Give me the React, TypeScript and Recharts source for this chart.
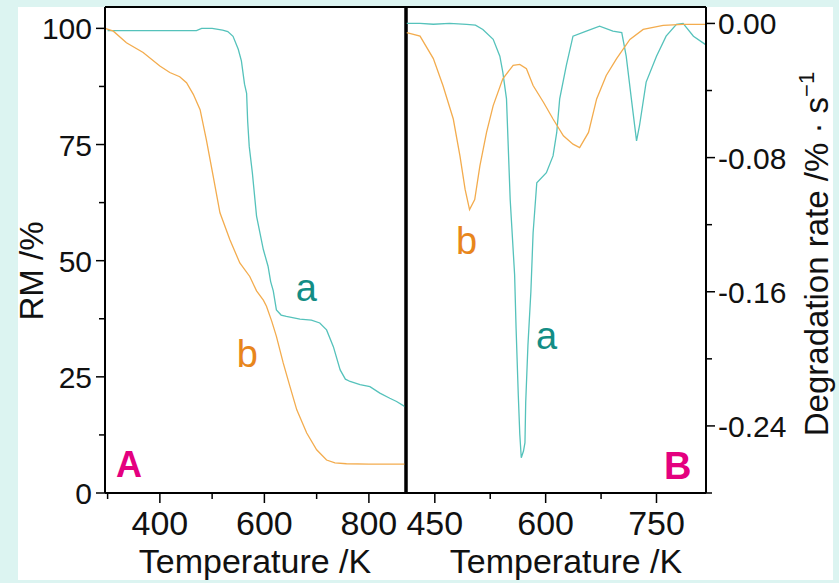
import React from 'react';
import { LineChart, Line, XAxis, YAxis, ReferenceLine, ReferenceDot } from 'recharts';

// panel A: residual mass (RM %) vs temperature
const tempA_a = [300, 400, 470, 480, 500, 520, 530, 540, 550, 556, 562, 566, 568, 571, 577, 585, 598, 607, 612, 617, 623, 632, 642, 668, 690, 706, 719, 732, 745, 755, 764, 783, 802, 821, 840, 853, 869];
const rmA_a = [99.5, 99.5, 99.5, 100, 100, 99.6, 99.3, 98.3, 95.5, 93, 88, 86, 80, 74.6, 68.9, 59.6, 52.4, 48.8, 45.5, 43.5, 39.4, 38.3, 38, 37.4, 37.2, 36.6, 35.1, 31.5, 26.5, 24.5, 24, 23.3, 22.9, 21.5, 20.4, 19.7, 18.6];
const tempA_b = [295, 311, 336, 368, 400, 419, 438, 451, 464, 477, 489, 502, 515, 534, 553, 572, 585, 598, 604, 614, 623, 636, 649, 662, 681, 700, 719, 735, 757, 800, 869];
const rmA_b = [100, 99.4, 96.9, 94.8, 91.9, 90.5, 89.6, 88.3, 85.8, 82.5, 76, 68.2, 60.3, 54.5, 49.5, 46.6, 43.5, 41.5, 40.2, 37, 33.7, 28, 22.9, 17.9, 12.9, 9.3, 7.1, 6.5, 6.3, 6.2, 6.2];

// panel B: degradation rate vs temperature
const tempB_a = [412, 430, 448, 470, 493, 505, 515, 529, 538, 542, 547, 552, 558, 560, 563, 565, 567, 570, 572, 573, 576, 580, 583, 588, 601, 610, 615, 619, 628, 637, 655, 673, 691, 703, 709, 716, 723, 727, 736, 750, 763, 777, 786, 800, 816];
const rateB_a = [0, 0, -0.0005, 0, -0.0006, -0.001, -0.0036, -0.0095, -0.0195, -0.029, -0.045, -0.105, -0.15, -0.182, -0.222, -0.245, -0.259, -0.255, -0.25, -0.226, -0.192, -0.16, -0.125, -0.095, -0.089, -0.079, -0.065, -0.045, -0.025, -0.0076, -0.0046, -0.0016, -0.0046, -0.0055, -0.0195, -0.045, -0.07, -0.061, -0.035, -0.0195, -0.0076, -0.0006, 0, -0.0076, -0.0125];
const tempB_b = [412, 430, 448, 461, 475, 484, 491, 497, 504, 511, 520, 529, 542, 556, 565, 574, 583, 597, 610, 624, 637, 646, 658, 669, 682, 696, 714, 732, 759, 786, 816];
const rateB_b = [-0.0055, -0.0076, -0.021, -0.037, -0.057, -0.079, -0.099, -0.111, -0.105, -0.085, -0.065, -0.049, -0.033, -0.025, -0.0244, -0.027, -0.037, -0.047, -0.057, -0.067, -0.072, -0.074, -0.065, -0.045, -0.031, -0.021, -0.0095, -0.0036, -0.0012, -0.0006, -0.0006];

const ticksA_x = [300, 400, 500, 600, 700, 800];
const labelsA_x = [400, 600, 800];
const ticksA_y = [0, 12.5, 25, 37.5, 50, 62.5, 75, 87.5, 100];
const labelsA_y = [0, 25, 50, 75, 100];
const ticksB_x = [450, 525, 600, 675, 750];
const labelsB_x = [450, 600, 750];
const ticksB_y = [0, -0.04, -0.08, -0.12, -0.16, -0.2, -0.24, -0.28];
const labelsB_y = [0, -0.08, -0.16, -0.24];

const rows = (t: number[], v: number[]) => t.map((x, i) => ({ t: x, v: v[i] }));

const FONT = '"Liberation Sans", Arial, sans-serif';
const TEAL = '#55c2bb';
const ORANGE = '#f3ac4e';
const TEAL_TXT = '#138d85';
const ORANGE_TXT = '#e8861c';
const MAGENTA = '#e4007f';
const OFF_B = 392;

const has = (arr: number[], v: number) => arr.some((a) => Math.abs(a - v) < 1e-9);

function BottomTick(props: any) {
  const { x, y, payload, labels } = props;
  const major = has(labels, payload.value);
  return (
    <g>
      <line x1={x} y1={y} x2={x} y2={y + (major ? 10 : 6)} stroke="#000" strokeWidth={1.5} />
      {major && (
        <text x={x} y={y + 42} textAnchor="middle" fontSize={34} fontFamily={FONT} fill="#111">
          {payload.value}
        </text>
      )}
    </g>
  );
}

function LeftTick(props: any) {
  const { x, y, payload, labels } = props;
  const major = has(labels, payload.value);
  return (
    <g>
      <line x1={x - (major ? 9 : 6)} y1={y} x2={x} y2={y} stroke="#000" strokeWidth={1.5} />
      {major && (
        <text x={x - 13} y={y + 11} textAnchor="end" fontSize={30} fontFamily={FONT} fill="#111">
          {payload.value}
        </text>
      )}
    </g>
  );
}

function RightTick(props: any) {
  const { x, y, payload, labels } = props;
  const major = has(labels, payload.value);
  return (
    <g>
      <line x1={x} y1={y} x2={x + (major ? 9 : 6)} y2={y} stroke="#000" strokeWidth={1.5} />
      {major && (
        <text x={x + 12} y={y + 11} textAnchor="start" fontSize={30} fontFamily={FONT} fill="#111">
          {payload.value === 0 ? '0.00' : payload.value.toFixed(2)}
        </text>
      )}
    </g>
  );
}

const tag = (txt: string, color: string, size: number, bold = false) => (props: any) => {
  const { viewBox } = props;
  return (
    <text x={viewBox.x} y={viewBox.y} fontSize={size} fontFamily={FONT} fill={color} fontWeight={bold ? 'bold' : 'normal'}>
      {txt}
    </text>
  );
};

export default function App() {
  return (
    <div style={{ position: 'absolute', left: 0, top: 0, width: 839, height: 583, background: '#dcf4f1', overflow: 'hidden' }}>
      <div style={{ position: 'absolute', left: 18, top: 7, width: 815, height: 573, background: '#fff' }} />

      <div style={{ position: 'absolute', left: 0, top: 0 }}>
        <LineChart width={420} height={583} margin={{ top: 7, right: 0, bottom: 0, left: 0 }}>
          <XAxis
            dataKey="t"
            type="number"
            domain={[295, 871]}
            ticks={ticksA_x}
            interval={0}
            height={90}
            allowDataOverflow
            axisLine={{ stroke: '#000', strokeWidth: 2 }}
            tickLine={false}
            tickSize={0}
            tickMargin={0}
            tick={<BottomTick labels={labelsA_x} />}
            label={() => (
              <text x={255} y={573} textAnchor="middle" fontSize={34} fontFamily={FONT} fill="#111">
                Temperature /K
              </text>
            )}
          />
          <YAxis
            type="number"
            domain={[0, 104.6]}
            ticks={ticksA_y}
            interval={0}
            width={105}
            allowDataOverflow
            axisLine={{ stroke: '#000', strokeWidth: 2 }}
            tickLine={false}
            tickSize={0}
            tickMargin={0}
            tick={<LeftTick labels={labelsA_y} />}
            label={() => (
              <text transform="translate(43,271) rotate(-90)" textAnchor="middle" fontSize={33} fontFamily={FONT} fill="#111">
                RM /%
              </text>
            )}
          />
          <YAxis yAxisId="div" orientation="right" width={14} tick={false} axisLine={false} tickLine={false} />
          <ReferenceLine y={104.6} stroke="#000" strokeWidth={2} />
          <ReferenceLine x={871} stroke="#000" strokeWidth={3} />
          <Line data={rows(tempA_a, rmA_a)} dataKey="v" stroke={TEAL} strokeWidth={1.3} dot={false} isAnimationActive={false} />
          <Line data={rows(tempA_b, rmA_b)} dataKey="v" stroke={ORANGE} strokeWidth={1.3} dot={false} isAnimationActive={false} />
          <ReferenceDot x={662} y={41.2} r={1} fill="none" stroke="none" label={tag('a', TEAL_TXT, 38)} />
          <ReferenceDot x={549} y={26.9} r={1} fill="none" stroke="none" label={tag('b', ORANGE_TXT, 38)} />
          <ReferenceDot x={318} y={3.3} r={1} fill="none" stroke="none" label={tag('A', MAGENTA, 36, true)} />
        </LineChart>
      </div>

      <div style={{ position: 'absolute', left: OFF_B, top: 0 }}>
        <LineChart width={447} height={583} margin={{ top: 7, right: 0, bottom: 0, left: 0 }}>
          <XAxis
            dataKey="t"
            type="number"
            domain={[411, 817]}
            ticks={ticksB_x}
            interval={0}
            height={90}
            allowDataOverflow
            axisLine={{ stroke: '#000', strokeWidth: 2 }}
            tickLine={false}
            tickSize={0}
            tickMargin={0}
            tick={<BottomTick labels={labelsB_x} />}
            label={() => (
              <text x={566 - OFF_B} y={573} textAnchor="middle" fontSize={34} fontFamily={FONT} fill="#111">
                Temperature /K
              </text>
            )}
          />
          <YAxis yAxisId="div" orientation="left" width={14} tick={false} axisLine={false} tickLine={false} />
          <YAxis
            orientation="right"
            type="number"
            domain={[-0.28, 0.0098]}
            ticks={ticksB_y}
            interval={0}
            width={133}
            allowDataOverflow
            axisLine={{ stroke: '#000', strokeWidth: 2 }}
            tickLine={false}
            tickSize={0}
            tickMargin={0}
            tick={<RightTick labels={labelsB_y} />}
            label={() => (
              <text transform={`translate(${828 - OFF_B},254) rotate(-90)`} textAnchor="middle" fontSize={33} fontFamily={FONT} fill="#111">
                Degradation rate /%  ·  s<tspan dy={-14} fontSize={22}>−1</tspan>
              </text>
            )}
          />
          <ReferenceLine y={0.0098} stroke="#000" strokeWidth={2} />
          <ReferenceLine x={411} stroke="#000" strokeWidth={3} />
          <Line data={rows(tempB_a, rateB_a)} dataKey="v" stroke={TEAL} strokeWidth={1.3} dot={false} isAnimationActive={false} />
          <Line data={rows(tempB_b, rateB_b)} dataKey="v" stroke={ORANGE} strokeWidth={1.3} dot={false} isAnimationActive={false} />
          <ReferenceDot x={480} y={-0.138} r={1} fill="none" stroke="none" label={tag('b', ORANGE_TXT, 38)} />
          <ReferenceDot x={588.3} y={-0.1947} r={1} fill="none" stroke="none" label={tag('a', TEAL_TXT, 38)} />
          <ReferenceDot x={761.5} y={-0.272} r={1} fill="none" stroke="none" label={tag('B', MAGENTA, 38, true)} />
        </LineChart>
      </div>
    </div>
  );
}
